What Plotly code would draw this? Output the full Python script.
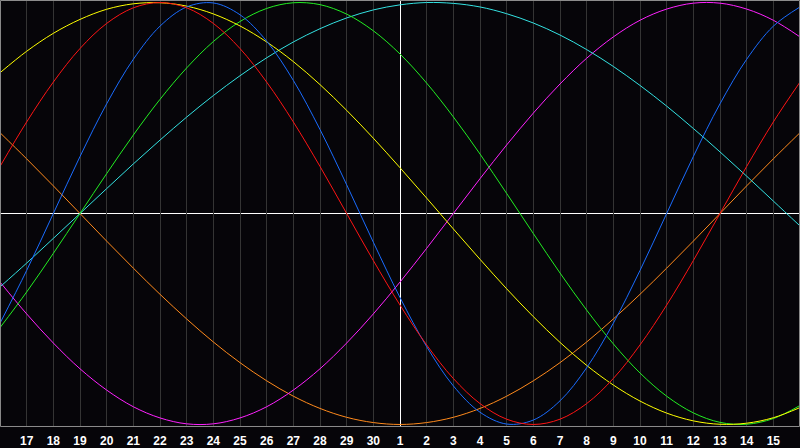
import plotly.graph_objects as go

# Day index 0..30 (day 16 of previous month .. day 16 of next month)
day_index = [0, 1, 2, 3, 4, 5, 6, 7, 8, 9, 10, 11, 12, 13, 14, 15,
             16, 17, 18, 19, 20, 21, 22, 23, 24, 25, 26, 27, 28, 29, 30]
tick_pos = [1, 2, 3, 4, 5, 6, 7, 8, 9, 10, 11, 12, 13, 14, 15,
            16, 17, 18, 19, 20, 21, 22, 23, 24, 25, 26, 27, 28, 29]
tick_labels = ["17", "18", "19", "20", "21", "22", "23", "24", "25", "26",
               "27", "28", "29", "30", "1", "2", "3", "4", "5", "6", "7",
               "8", "9", "10", "11", "12", "13", "14", "15"]
today_pos = 15

# Cycle values (percent) read per day
yellow = [66.7, 76.9, 85.4, 92.0, 96.8, 99.4, 99.9, 98.3, 94.6, 88.9, 81.3, 72.0, 61.1, 48.9, 35.7, 21.7,
          7.3, -7.3, -21.7, -35.7, -48.9, -61.1, -72.0, -81.3, -88.9, -94.6, -98.3, -99.9, -99.4, -96.8, -92.0]
red = [22.3, 43.4, 62.3, 78.2, 90.1, 97.5, 100, 97.5, 90.1, 78.2, 62.3, 43.4, 22.3, 0, -22.3, -43.4,
       -62.3, -78.2, -90.1, -97.5, -100, -97.5, -90.1, -78.2, -62.3, -43.4, -22.3, 0, 22.3, 43.4, 62.3]
blue = [-52.0, -27.0, 0, 27.0, 52.0, 73.1, 88.8, 97.9, 99.8, 94.2, 81.7, 63.1, 39.8, 13.6, -13.6, -39.8,
        -63.1, -81.7, -94.2, -99.8, -97.9, -88.8, -73.1, -52.0, -27.0, 0, 27.0, 52.0, 73.1, 88.8, 97.9]
green = [-54.1, -37.2, -18.9, 0, 18.9, 37.2, 54.1, 69.0, 81.5, 91.0, 97.2, 99.9, 99.0, 94.5, 86.6, 75.6,
         61.8, 45.8, 28.2, 9.5, -9.5, -28.2, -45.8, -61.8, -75.6, -86.6, -94.5, -99.0, -99.9, -97.2, -91.0]
cyan = [-34.8, -23.5, -11.8, 0, 11.8, 23.5, 34.8, 45.7, 55.9, 65.3, 73.8, 81.3, 87.6, 92.7, 96.5, 98.9,
        100.0, 99.6, 97.9, 94.7, 90.3, 84.6, 77.7, 69.7, 60.7, 50.9, 40.3, 29.2, 17.7, 5.9, -5.9]
magenta = [-32.5, -47.6, -61.4, -73.6, -83.7, -91.6, -96.9, -99.7, -99.7, -96.9, -91.6, -83.7, -73.6, -61.4, -47.6, -32.5,
           -16.5, 0, 16.5, 32.5, 47.6, 61.4, 73.6, 83.7, 91.6, 96.9, 99.7, 99.7, 96.9, 91.6, 83.7]
orange = [38.3, 25.9, 13.1, 0, -13.1, -25.9, -38.3, -50.0, -60.9, -70.7, -79.3, -86.6, -92.4, -96.6, -99.1, -100,
          -99.1, -96.6, -92.4, -86.6, -79.3, -70.7, -60.9, -50.0, -38.3, -25.9, -13.1, 0, 13.1, 25.9, 38.3]

series = [
    ("orange", orange, "#ff8a1c"),
    ("magenta", magenta, "#ff22ff"),
    ("cyan", cyan, "#33e2e2"),
    ("green", green, "#22ee22"),
    ("yellow", yellow, "#ffff00"),
    ("blue", blue, "#1a6cff"),
    ("red", red, "#ff1414"),
]

YR = 101.2
fig = go.Figure()
# "today" marker line, drawn beneath the cycle curves (half-pixel nudge for a crisp 1px line)
today_line_x = today_pos + 0.5 * 30 / 800
fig.add_trace(go.Scatter(x=[today_line_x, today_line_x], y=[-YR, YR], mode="lines",
                         line=dict(color="#ffffff", width=1), hoverinfo="skip", name="today"))
for name, vals, col in series:
    fig.add_trace(go.Scatter(x=day_index, y=vals, mode="lines", name=name,
                             line=dict(color=col, width=1, shape="spline"),
                             hoverinfo="skip"))

bg = "#060509"
fig.update_layout(
    width=800, height=448,
    margin=dict(l=0, r=0, t=0, b=21, autoexpand=False),
    paper_bgcolor=bg, plot_bgcolor=bg,
    showlegend=False,
    xaxis=dict(range=[0, 30], tickvals=tick_pos, ticktext=tick_labels,
               showgrid=True, gridcolor="#343434", gridwidth=1,
               zeroline=False, showline=False, ticks="outside", ticklen=3, tickcolor=bg,
               tickfont=dict(family="Liberation Sans", size=12, color="#ffffff", weight="bold"),
               automargin=False, fixedrange=True),
    yaxis=dict(range=[-YR, YR], showgrid=False, zeroline=False,
               showticklabels=False, ticks="", showline=False, fixedrange=True),
    shapes=[
        dict(type="line", xref="paper", yref="y", x0=0, x1=1, y0=0, y1=0,
             line=dict(color="#ffffff", width=1), layer="between"),
        dict(type="rect", xref="paper", yref="paper", x0=0.0006, x1=0.9994, y0=0.0012, y1=0.9988,
             line=dict(color="#8c8c8c", width=1), layer="above"),
    ],
)

fig.write_html("out.html", config={"displayModeBar": False},
               post_script="document.body.style.margin='0px';document.body.style.overflow='hidden';")
